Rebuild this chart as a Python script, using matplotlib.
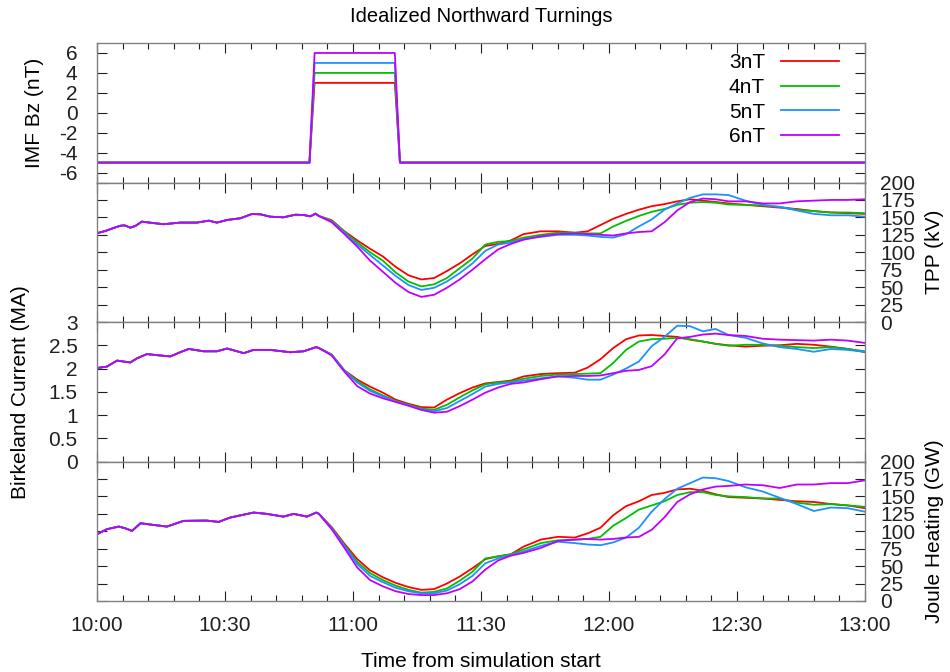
import numpy as np
import matplotlib
matplotlib.use("Agg")
import matplotlib.pyplot as plt
from matplotlib.ticker import MultipleLocator, FixedLocator

plt.rcParams['font.family'] = ['Liberation Sans', 'DejaVu Sans']
plt.rcParams['axes.unicode_minus'] = False

# ---------------- data ----------------
labels = ["3nT", "4nT", "5nT", "6nT"]
colors = ["#ff0000", "#00c000", "#1e90ff", "#c000ff"]

# IMF Bz (minutes after 10:00)
bz_t = [0, 49.8, 51.0, 69.8, 71.0, 180]
bz_south = -5
bz_north = [3, 4, 5, 6]

# shared part before the turning
pre_tpp_t = [0, 2, 4, 5.5, 6.5, 7.8, 9, 10.5, 13, 15.6, 19.5, 23.4, 26.2, 28.1, 30.5,
             33.6, 36.3, 38.3, 40.6, 43.7, 46.5, 48.4, 50, 51.2]
pre_tpp = [127.3, 130.6, 135, 138, 138.5, 135.3, 137.7, 143.9, 142, 140.2, 142.5, 142.5,
           145.3, 142.5, 146.3, 148.7, 154.8, 154.4, 151, 150.1, 153.8, 153.4, 151.5, 155.3]

pre_bc_t = [0, 2.3, 4.7, 6.2, 7.8, 9.4, 11.7, 14.8, 17.2, 19.5, 21.5, 25, 28.1, 30.5,
            34.4, 36.7, 40.6, 45.3, 48.4, 51.4]
pre_bc = [2.01, 2.04, 2.17, 2.15, 2.13, 2.22, 2.31, 2.28, 2.26, 2.35, 2.42, 2.37, 2.37,
          2.43, 2.33, 2.40, 2.40, 2.35, 2.37, 2.46]

pre_jh_t = [0, 2.3, 5.1, 6.6, 8.2, 10.2, 13.2, 16.4, 20.3, 25.7, 28.5, 31.2, 36.7, 39.8,
            43.7, 46.1, 49.2, 51.4]
pre_jh = [95.7, 102.9, 106.7, 104.3, 100.5, 111.5, 109.1, 106.7, 114.9, 115.3, 113.4,
          119.6, 126.8, 124.9, 121, 124.9, 121, 126.8]

# after the turning (per run)
post_t = [52, 55, 58, 61, 64, 67, 70, 73, 76, 79, 82, 85, 88, 91, 94, 97, 100, 104, 108,
          112, 115, 118, 121, 124, 127, 130, 133, 136, 139, 142, 145, 148, 152, 156, 160,
          164, 168, 172, 176, 180]

tpp_3nT = [152, 146, 130, 117, 105, 94, 79, 67, 61, 63, 73, 84, 97, 109, 112, 117, 126,
           130, 130, 128, 130, 139, 148, 155, 161, 166, 169, 173, 176, 174, 172, 170, 168,
           166, 164, 162, 159, 157, 156, 155]
tpp_4nT = [152, 145, 129, 114, 100, 88, 71, 58, 51, 54, 63, 77, 91, 111, 115, 116, 121,
           125, 128, 128, 127, 127, 137, 145, 152, 158, 162, 168, 171, 172, 171, 168.5, 168,
           167, 165, 161, 159, 157, 157, 156]
tpp_5nT = [152, 144, 128, 111, 96, 81, 66, 53, 46, 49, 58, 70, 84, 102, 111, 114, 119,
           122, 125, 125, 124, 122, 121, 126, 137, 147, 161, 170, 178, 183, 183, 182, 174,
           168, 165, 160, 155, 153, 153, 151]
tpp_6nT = [152, 143, 126, 108, 88, 72, 56, 43, 36, 39, 49, 61, 75, 90, 104, 112, 118,
           123, 126, 127, 126, 125, 124, 127, 129, 130, 143, 160, 172, 177, 176, 173, 173,
           170, 170, 173, 174, 175, 175, 176]

bc_3nT = [2.44, 2.30, 1.96, 1.76, 1.61, 1.48, 1.33, 1.24, 1.17, 1.16, 1.33, 1.47, 1.59,
          1.68, 1.71, 1.74, 1.83, 1.88, 1.90, 1.91, 2.02, 2.20, 2.44, 2.63, 2.71, 2.72,
          2.70, 2.68, 2.62, 2.58, 2.53, 2.50, 2.47, 2.49, 2.50, 2.53, 2.51, 2.47, 2.42, 2.35]
bc_4nT = [2.44, 2.30, 1.95, 1.73, 1.55, 1.42, 1.30, 1.22, 1.14, 1.11, 1.22, 1.38, 1.53,
          1.66, 1.70, 1.72, 1.78, 1.84, 1.87, 1.88, 1.89, 1.90, 2.12, 2.40, 2.58, 2.63,
          2.64, 2.66, 2.63, 2.58, 2.53, 2.49, 2.51, 2.51, 2.49, 2.46, 2.44, 2.46, 2.42, 2.37]
bc_5nT = [2.44, 2.29, 1.95, 1.70, 1.52, 1.40, 1.29, 1.21, 1.12, 1.08, 1.15, 1.30, 1.45,
          1.61, 1.67, 1.70, 1.74, 1.79, 1.83, 1.80, 1.76, 1.76, 1.87, 2.00, 2.15, 2.48,
          2.68, 2.92, 2.91, 2.80, 2.85, 2.72, 2.66, 2.54, 2.46, 2.42, 2.36, 2.42, 2.40, 2.36]
bc_6nT = [2.44, 2.28, 1.93, 1.62, 1.46, 1.36, 1.28, 1.20, 1.11, 1.05, 1.07, 1.19, 1.33,
          1.48, 1.59, 1.67, 1.70, 1.77, 1.83, 1.84, 1.84, 1.85, 1.90, 1.95, 1.97, 2.05,
          2.30, 2.65, 2.68, 2.73, 2.75, 2.72, 2.70, 2.64, 2.62, 2.61, 2.60, 2.62, 2.60, 2.55]

jh_3nT = [125, 106, 82, 60, 44, 34, 26, 20, 16, 17, 25, 35, 47, 60, 64, 67, 78, 88, 92,
          91, 97, 105, 123, 136, 143, 152, 155, 160, 161, 158, 153, 149, 148, 147, 145,
          143, 142, 139, 137, 133]
jh_4nT = [125, 105, 80, 56, 40, 30, 22, 16, 12, 13, 18, 29, 42, 61, 64, 67, 74, 83, 87,
          88, 89, 92, 108, 119, 131, 137, 143, 152, 156, 156, 152, 150, 149, 147, 147,
          141, 138, 139, 137, 135]
jh_5nT = [125, 104, 79, 53, 36, 27, 19, 14, 11, 11, 15, 24, 36, 54, 61, 66, 71, 79, 85,
          83, 81, 80, 84, 91, 105, 128, 146, 161, 169, 177, 176, 172, 163, 157, 148, 139,
          129, 134, 133, 128]
jh_6nT = [125, 103, 76, 48, 30, 21, 14, 10, 8.5, 8.5, 11, 17, 28, 45, 58, 65, 69, 76,
          86, 88, 89, 88, 89, 91, 92, 102, 120, 142, 153, 160, 164, 165, 167, 166, 162,
          167, 167, 169, 169, 173]

tick_pos = [0, 30, 60, 90, 120, 150, 180]
tick_lab = ["10:00", "10:30", "11:00", "11:30", "12:00", "12:30", "13:00"]

# ---------------- figure ----------------
W, H = 950, 672
fig = plt.figure(figsize=(W / 100, H / 100), dpi=100)
left, right = 97 / W, 865 / W
top, bottom = 1 - 43 / H, 1 - 601 / H
ph = (top - bottom) / 4
axes = [fig.add_axes([left, top - (i + 1) * ph, right - left, ph]) for i in range(4)]

FS = 15
frame_col = "#808080"
lw = 1.3
aw = 768.0

for ax in axes:
    ax.set_xlim(0, 180)
    ax.xaxis.set_major_locator(FixedLocator(tick_pos))
    ax.xaxis.set_minor_locator(MultipleLocator(6))
    ax.tick_params(which="both", direction="in", top=True, bottom=True,
                   left=True, right=True, colors="#202020", labelsize=FS)
    ax.tick_params(which="major", length=7, width=0.8)
    ax.tick_params(which="minor", length=4, width=0.8)
    for s in ax.spines.values():
        s.set_color(frame_col)
        s.set_linewidth(1.0)
    ax.set_xticklabels([])

# panel 1: IMF Bz
ax = axes[0]
for lab, c, v in zip(labels, colors, bz_north):
    ax.plot(bz_t, [bz_south, bz_south, v, v, bz_south, bz_south], color=c, lw=lw, label=lab)
ax.set_ylim(-7, 7)
ax.set_yticks([-6, -4, -2, 0, 2, 4, 6])
ax.tick_params(axis="y", labelleft=True, labelright=False, pad=14)
ax.set_ylabel("IMF Bz (nT)", fontsize=FS, va="center")
ax.yaxis.set_label_coords((34 - 97) / aw, 0.5)
leg = ax.legend(loc="upper right", markerfirst=False, frameon=False, fontsize=FS,
                handlelength=2.8, handletextpad=0.75, labelspacing=0.27,
                borderaxespad=0.0, bbox_to_anchor=(0.977, 0.985))
for t in leg.get_texts():
    t.set_ha("right")

# helper to assemble series
def full(pre_t, pre_v, post_v):
    return list(pre_t) + list(post_t), list(pre_v) + list(post_v)

# panel 2: TPP
ax = axes[1]
for lab, c, vals in zip(labels, colors, [tpp_3nT, tpp_4nT, tpp_5nT, tpp_6nT]):
    t, v = full(pre_tpp_t, pre_tpp, vals)
    ax.plot(t, v, color=c, lw=lw)
ax.set_ylim(0, 200)
ax.set_yticks(np.arange(0, 201, 25))
ax.tick_params(axis="y", labelleft=False, labelright=True, pad=11)
ax.yaxis.set_label_position("right")
ax.set_ylabel("TPP (kV)", fontsize=FS, va="center")
ax.yaxis.set_label_coords((935 - 97) / aw, 0.5)

# panel 3: Birkeland current
ax = axes[2]
for lab, c, vals in zip(labels, colors, [bc_3nT, bc_4nT, bc_5nT, bc_6nT]):
    t, v = full(pre_bc_t, pre_bc, vals)
    ax.plot(t, v, color=c, lw=lw)
ax.set_ylim(0, 3)
ax.set_yticks([0, 0.5, 1, 1.5, 2, 2.5, 3])
ax.set_yticklabels(["0", "0.5", "1", "1.5", "2", "2.5", "3"])
ax.tick_params(axis="y", labelleft=True, labelright=False, pad=14)
ax.set_ylabel("Birkeland Current (MA)", fontsize=FS, va="center")
ax.yaxis.set_label_coords((21 - 97) / aw, 0.5)

# panel 4: Joule heating
ax = axes[3]
for lab, c, vals in zip(labels, colors, [jh_3nT, jh_4nT, jh_5nT, jh_6nT]):
    t, v = full(pre_jh_t, pre_jh, vals)
    ax.plot(t, v, color=c, lw=lw)
ax.set_ylim(0, 200)
ax.set_yticks(np.arange(0, 201, 25))
ax.tick_params(axis="y", labelleft=False, labelright=True, pad=11)
ax.yaxis.set_label_position("right")
ax.set_ylabel("Joule Heating (GW)", fontsize=FS, va="center")
ax.yaxis.set_label_coords((935 - 97) / aw, 0.5)
ax.set_xticklabels(tick_lab)
ax.tick_params(axis="x", pad=11)
ax.set_xlabel("Time from simulation start", fontsize=FS, labelpad=12)

fig.text((left + right) / 2, 1 - 17 / H, "Idealized Northward Turnings",
         ha="center", va="center", fontsize=14.5)

fig.savefig("out.png", dpi=100)
